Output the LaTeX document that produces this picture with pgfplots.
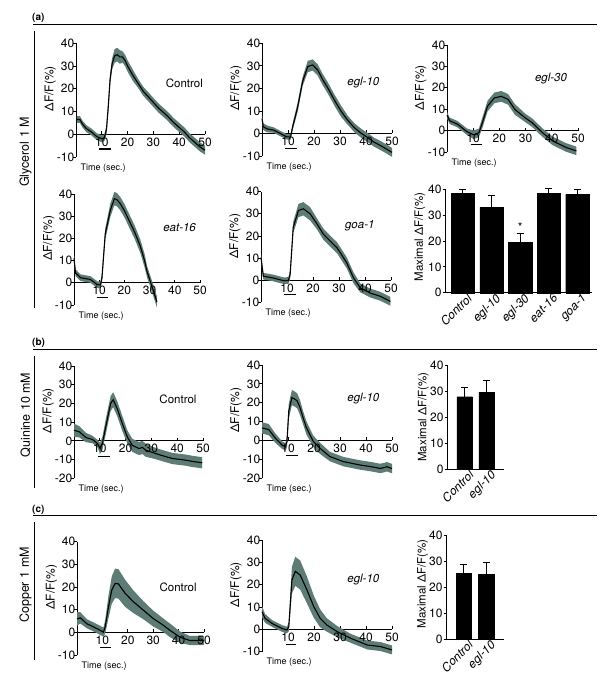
\documentclass[border=0pt]{standalone}
\usepackage{fontspec}
\setmainfont{TeX Gyre Heros}
\usepackage{pgfplots}
\usepackage{pgfplotstable}
\pgfplotsset{compat=1.18}
\usepgfplotslibrary{fillbetween}
\definecolor{band}{RGB}{94,124,118}

\pgfplotstableread{
x y e
0.3 6.5 1.5
1.5 6.5 1.5
2.5 4.5 1.5
4 2.5 1.5
6 1 1.5
8 -1 1.5
10 -2 1.5
11 -1.5 1.5
11.8 2 2
12.5 12 2.5
13.2 24 2.5
14 31 2.5
15 34.5 3
16 35 3
17 34 3
18 34 2.5
19 32.5 2.5
20 30 2.5
22 26 2.5
24 22.5 2
26 19 2
28 16.5 2
30 14 2
32 11.5 2
35 8.5 2
38 5 2
40 3 2
42 1 2
44 -1.5 2
46 -3.5 2
48 -5.5 2
50 -7 2
}\tGC
\pgfplotstableread{
x y e
0 6.6 2
0.5 3 1.5
2 2 1.5
4.5 1.5 1.2
7 0 1.2
9.5 -1.5 1.2
11 -1.5 1.2
11.8 3 1.5
13.7 11.6 2
15.6 23 2
17.6 29.7 2.5
19.5 30.4 2.5
21.4 28.2 2.5
23.3 24 2.5
25.3 20.2 2.5
28 14.5 2.5
30.4 9.9 2.5
33 5.8 2
35.5 2.6 2
38 0.2 2
40.6 -1.8 2
43 -3.8 2
45.8 -5.5 2
48 -7 2
50 -8.4 2
}\tGE
\pgfplotstableread{
x y e
0 7.3 1.5
1 4.6 1.5
4 3 1.5
7.6 -0.5 1.5
10.2 -2 2
12.2 -1 2
13.5 3.7 2.5
15.5 11.5 2.5
18.1 15.3 2.5
20.7 16 2.5
23.3 14.6 2.5
25.9 9.9 2.5
29.8 6 2
32.5 3.7 2
36.4 -0.9 2
40.3 -4.8 2
45.5 -7.9 2
49.4 -9.5 2
}\tGT
\pgfplotstableread{
x y e
0 11 2
0.6 4.5 1.5
2.6 2.3 1.5
6.5 1.5 1.5
9.2 -0.8 1.5
10.5 -1 1.5
11.1 2.3 2
12.4 22 2.5
14.4 32.6 3
16 37.9 3
17 37.5 3
18.4 35.6 3
20 32.5 3
22.3 27 3
24 23 3
26.3 16.5 3
28 10 3
29 5 2.5
30.9 -1.5 2.5
32.9 -8.6 2.5
}\tES
\pgfplotstableread{
x y e
0 10.2 2
0.9 1.8 1.5
4.7 1 1.5
8.6 -0.2 1.5
10.5 -0.2 1.5
11.2 2.5 2
12.4 23.9 2.5
14.4 31.5 3
16.3 32.3 3
18.9 30 3
21.5 25.5 2.5
24 20.8 2.5
26.5 17.8 2.5
29.2 14.7 2.5
31 11.5 2.5
33 7.8 2.5
35.6 1 2.5
38.2 -3.5 2
42 -5.8 2
45.9 -7.3 2
49.8 -9.6 2
}\tGO
\pgfplotstableread{
x y e
0 5.7 3.5
2.1 4.8 3
4.6 1.8 2.5
7.2 0.7 2
9.1 -1.4 2
10.1 -4 3
11 -1.4 3.5
12.3 7.5 4
14.2 20 4
15.2 22 4
16.8 17 4
18.8 9 4
20.7 2 3.5
22.6 -2.4 3.5
25.2 -4.1 3.5
26.5 -3.5 3.5
27.8 -5 3.5
31.7 -6.8 3
35 -8.2 3
38.1 -9.4 3
43.3 -10.3 3
46 -11 3
49.7 -11.7 3
}\tQC
\pgfplotstableread{
x y e
0 6.6 3
2.6 5.7 3
5.1 1.2 2.5
7.7 -2.5 2
9 -3.4 2
9.6 -0.7 3
10.3 15.5 4
11.5 22.7 4
12.5 22 4
13.5 21 4
14.6 17.5 4
15.8 12 3.5
17.1 6.6 3.5
19.7 -0.5 3
22.2 -4.1 3
26.1 -8.6 2.5
31.3 -11.3 2.5
37.7 -13.1 2.5
42 -14 2.5
45.4 -14.9 2.5
47 -14.5 2.5
48 -14 2.5
50 -15 2.5
}\tQE
\pgfplotstableread{
x y e
0 5.9 3
1.3 6.4 2.5
3.9 3.8 2
6.5 2.4 2
9.1 0.9 2
10.4 0.1 2
11.1 2.4 3
12.4 11.3 5
13.7 18.7 6
15 21.6 6.5
16.3 21.4 6.5
18.9 17.3 6
22.2 13.5 5
26.1 9.8 4
30 6.1 3.5
34 3.1 3
36.6 0.9 3
40.5 -2.1 2.5
44.4 -3.6 2
48.4 -3.6 2
50 -3.6 2
}\tCC
\pgfplotstableread{
x y e
0 7.9 2.5
1.2 4.9 2
3.8 2.7 1.5
7.7 0.4 1.5
9.6 -0.3 1.5
10.3 1.2 2
11.5 22 6
12.8 26 6.5
14.7 24.3 6.5
17.3 17.6 6
19.9 10.2 5
22.4 4.9 4
25 1.9 3
28.9 -1 2.5
34.1 -4 2
40.5 -7 2
45.6 -7.7 2
50 -9.2 2
}\tCE

\newcommand\tk{\fontsize{12}{13}\selectfont}
\newcommand\lb{\fontsize{12}{13}\selectfont}
\pgfplotsset{
  base/.style={scale only axis, clip=false, enlargelimits=false,
    axis line style={line width=0.9pt, black},
    tick style={line width=0.8pt, black},
    major tick length=3pt,
    tick label style={font=\tk},
    yticklabel style={inner sep=1.5pt},
    /pgf/number format/assume math mode=true,
    ylabel style={font=\lb},
  },
  trace/.style={base, xmin=0, xmax=50, ymin=-10, ymax=40,
    axis x line*=middle, axis y line*=left,
    xtick={10,20,30,40,50}, ytick={-10,0,10,20,30,40},
    tick align=inside,
    y tick style={xshift=-3pt},
    ylabel={ΔF/F(\%)},
    ylabel style={at={(axis description cs:-0.2,0.6)}, anchor=center},
    xlabel={Time (sec.)},
    xlabel style={at={(axis description cs:0,0)}, anchor=north west, font=\fontsize{9}{10}\selectfont, xshift=1pt, yshift=-3pt},
  },
  bars/.style={base, ymin=0, ymax=40, axis x line*=bottom, axis y line*=left,
    ytick={0,10,20,30,40}, xtick={1,2,3,4,5}, tick align=outside,
    x tick style={draw=none},
    yticklabel style={inner sep=1pt},
    xticklabel style={rotate=45, anchor=north east, font=\tk\itshape, inner sep=0.5pt, xshift=5pt},
    ylabel={Maximal ΔF/F(\%)},
    ylabel style={font=\fontsize{11.5}{13}\selectfont},
  },
}
\newcommand\bandplot[1]{%
  \addplot[name path=U, draw=none, forget plot] table[x=x, y expr=\thisrow{y}+\thisrow{e}] {#1};
  \addplot[name path=L, draw=none, forget plot] table[x=x, y expr=\thisrow{y}-\thisrow{e}] {#1};
  \addplot[fill=band, draw=none] fill between[of=U and L];
  \addplot[black, line width=1.1pt] table[x=x, y=y] {#1};
}

\begin{document}
\begin{tikzpicture}
% section headers
\draw[line width=1pt] (33pt,-25pt) -- (597pt,-25pt);
\node[anchor=base west, font=\bfseries\fontsize{10}{12}\selectfont, inner sep=0pt] at (32pt,-21pt) {(a)};
\draw[line width=1pt] (33pt,-349.3pt) -- (597pt,-349.3pt);
\node[anchor=base west, font=\bfseries\fontsize{10}{12}\selectfont, inner sep=0pt] at (32pt,-345.5pt) {(b)};
\draw[line width=1pt] (33pt,-515.7pt) -- (597pt,-515.7pt);
\node[anchor=base west, font=\bfseries\fontsize{10}{12}\selectfont, inner sep=0pt] at (32pt,-512pt) {(c)};

\draw[line width=1pt] (34pt,-31pt) -- (34pt,-308pt);
\draw[line width=1pt] (34pt,-356pt) -- (34pt,-488pt);
\draw[line width=1pt] (34pt,-522pt) -- (34pt,-660pt);
\node[rotate=90, font=\fontsize{12.5}{14}\selectfont] at (25.5pt,-152pt) {Glycerol 1 M};
\node[rotate=90, font=\fontsize{12.5}{14}\selectfont] at (25.5pt,-415pt) {Quinine 10 mM};
\node[rotate=90, font=\fontsize{12.5}{14}\selectfont] at (25.5pt,-585pt) {Copper 1 mM};

% ---- row a1
\begin{axis}[trace, at={(76pt,-157pt)}, anchor=south west, width=129pt, height=113.7pt]
\bandplot{\tGC}
\addplot[black, line width=1.2pt] coordinates {(9,-6.5) (13.5,-6.5)};
\node[font=\fontsize{11.5}{13}\selectfont] at (axis cs:42,22.6) {Control};
\end{axis}
\begin{axis}[trace, at={(262pt,-156pt)}, anchor=south west, width=130pt, height=112.7pt]
\bandplot{\tGE}
\addplot[black, line width=1.2pt] coordinates {(9,-6.5) (13.5,-6.5)};
\node[font=\fontsize{11.5}{13}\selectfont\itshape] at (axis cs:39,22.7) {egl-10};
\end{axis}
\begin{axis}[trace, at={(447pt,-152pt)}, anchor=south west, width=131pt, height=107pt]
\bandplot{\tGT}
\addplot[black, line width=1.2pt] coordinates {(9,-6.5) (13.5,-6.5)};
\node[font=\fontsize{11.5}{13}\selectfont\itshape] at (axis cs:39.7,24.5) {egl-30};
\end{axis}
% ---- row a2
\begin{axis}[trace, at={(74pt,-305pt)}, anchor=south west, width=126pt, height=111pt]
\bandplot{\tES}
\addplot[black, line width=1.2pt] coordinates {(9,-6.5) (13.5,-6.5)};
\node[font=\fontsize{11.5}{13}\selectfont\itshape] at (axis cs:41.9,24.8) {eat-16};
\end{axis}
\begin{axis}[trace, at={(261pt,-302.3pt)}, anchor=south west, width=130pt, height=110.6pt]
\bandplot{\tGO}
\addplot[black, line width=1.2pt] coordinates {(9,-6.5) (13.5,-6.5)};
\node[font=\fontsize{11.5}{13}\selectfont\itshape] at (axis cs:38,24.8) {goa-1};
\end{axis}
\begin{axis}[bars, at={(445.7pt,-292.7pt)}, anchor=south west, width=146pt, height=103.4pt,
  xmin=0.4, xmax=5.5, xticklabels={Control,egl-10,egl-30,eat-16,goa-1},
  ylabel style={at={(axis description cs:-0.176,0.54)}, anchor=center}]
\addplot[ybar, bar width=23.3pt, fill=black, draw=black,
  error bars/.cd, y dir=plus, y explicit,
  error bar style={line width=0.9pt, black},
  error mark options={rotate=90, mark size=3.5pt, line width=0.9pt, black}]
  coordinates {(1,38.3) +- (0,1.7) (2,33) +- (0,4.6) (3,19.4) +- (0,3.5) (4,38.4) +- (0,1.8) (5,38) +- (0,1.8)};
\node[font=\tk] at (axis cs:3,25.2) {*};
\end{axis}

% ---- row b
\begin{axis}[trace, at={(74pt,-478.3pt)}, anchor=south west, width=129pt, height=112.3pt,
  ymin=-20, ytick={-20,-10,0,10,20,30,40}]
\bandplot{\tQC}
\addplot[black, line width=1.2pt] coordinates {(9.3,-8.2) (13.9,-8.2)};
\node[font=\fontsize{11.5}{13}\selectfont] at (axis cs:40.3,22.1) {Control};
\end{axis}
\begin{axis}[trace, at={(262pt,-478pt)}, anchor=south west, width=130pt, height=113pt,
  ymin=-20, ytick={-20,-10,0,10,20,30,40}]
\bandplot{\tQE}
\addplot[black, line width=1.2pt] coordinates {(9.3,-8.2) (13.9,-8.2)};
\node[font=\fontsize{11.5}{13}\selectfont\itshape] at (axis cs:39,22.3) {egl-10};
\end{axis}
\begin{axis}[bars, at={(447.7pt,-469pt)}, anchor=south west, width=56.3pt, height=104pt,
  xmin=0.24, xmax=2.78, xtick={1,2}, xticklabels={Control,egl-10},
  ylabel style={at={(axis description cs:-0.43,0.5)}, anchor=center}]
\addplot[ybar, bar width=15.5pt, fill=black, draw=black,
  error bars/.cd, y dir=plus, y explicit,
  error bar style={line width=0.9pt, black},
  error mark options={rotate=90, mark size=3.5pt, line width=0.9pt, black}]
  coordinates {(1,27.8) +- (0,3.6) (2,29.5) +- (0,4.5)};
\end{axis}

% ---- row c
\begin{axis}[trace, at={(77pt,-655pt)}, anchor=south west, width=127pt, height=113.3pt]
\bandplot{\tCC}
\addplot[black, line width=1.2pt] coordinates {(9.1,-6.7) (13.2,-6.7)};
\node[font=\fontsize{11.5}{13}\selectfont] at (axis cs:39.8,20) {Control};
\end{axis}
\begin{axis}[trace, at={(262pt,-651.7pt)}, anchor=south west, width=130pt, height=111.7pt]
\bandplot{\tCE}
\addplot[black, line width=1.2pt] coordinates {(9.1,-6.7) (13.2,-6.7)};
\node[font=\fontsize{11.5}{13}\selectfont\itshape] at (axis cs:39,22.1) {egl-10};
\end{axis}
\begin{axis}[bars, at={(446.7pt,-639pt)}, anchor=south west, width=57.3pt, height=104pt,
  xmin=0.24, xmax=2.78, xtick={1,2}, xticklabels={Control,egl-10},
  ylabel style={at={(axis description cs:-0.42,0.53)}, anchor=center}]
\addplot[ybar, bar width=15.5pt, fill=black, draw=black,
  error bars/.cd, y dir=plus, y explicit,
  error bar style={line width=0.9pt, black},
  error mark options={rotate=90, mark size=3.5pt, line width=0.9pt, black}]
  coordinates {(1,25.3) +- (0,3.4) (2,24.9) +- (0,4.6)};
\end{axis}
\pgfresetboundingbox
\useasboundingbox (0,0) rectangle (600pt,-695pt);
\end{tikzpicture}
\end{document}
